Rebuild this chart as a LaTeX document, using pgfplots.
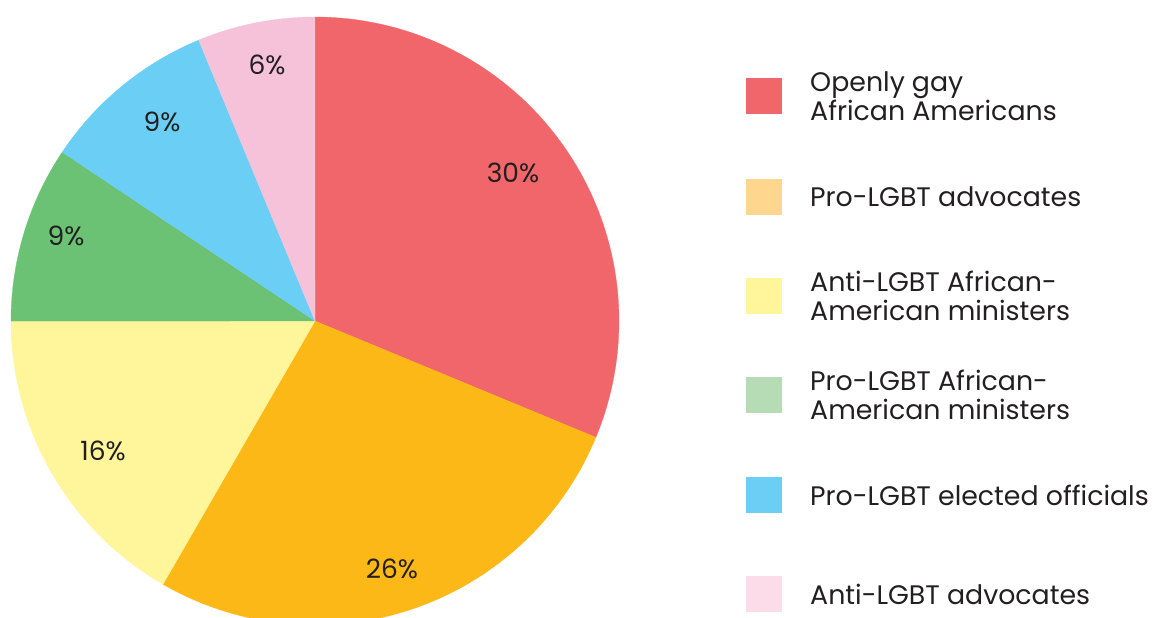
\documentclass[border=0pt]{standalone}
\usepackage{pgfplots}
\pgfplotsset{compat=1.18}
\usepackage{fontspec}
\setmainfont{Poppins}
\definecolor{cRed}{HTML}{F1666B}
\definecolor{cOrange}{HTML}{FCB817}
\definecolor{cYellow}{HTML}{FFF59A}
\definecolor{cGreen}{HTML}{6BC274}
\definecolor{cBlue}{HTML}{6BCFF5}
\definecolor{cPink}{HTML}{F6C2DA}
\definecolor{lRed}{HTML}{F1666B}
\definecolor{lOrange}{HTML}{FFD68E}
\definecolor{lYellow}{HTML}{FFF59A}
\definecolor{lGreen}{HTML}{B5DCB5}
\definecolor{lBlue}{HTML}{6BCFF5}
\definecolor{lPink}{HTML}{FCDCE9}
\definecolor{txt}{HTML}{231F20}
\begin{document}
\begin{tikzpicture}
\begin{axis}[width=1154pt, height=618pt, scale only axis,
  xmin=0, xmax=1154, ymin=0, ymax=618, hide axis, clip mode=individual]
% pie: shares in percent (sum 96, normalised)
\gdef\cumang{90}
\pgfplotsforeachungrouped \v/\c in {30/cRed, 26/cOrange, 16/cYellow, 9/cGreen, 9/cBlue, 6/cPink}{%
  \pgfmathsetmacro\a{\cumang}%
  \pgfmathsetmacro\b{\cumang-\v/96*360}%
  \xdef\cumang{\b}%
  \edef\tmp{\noexpand\addplot[fill=\c, draw=\c, line width=0.3pt, domain=\b:\a, samples=150, variable=\noexpand\t]
    ({315+304*cos(\noexpand\t)},{297+304*sin(\noexpand\t)}) -- (axis cs:315,297) -- cycle;}%
  \tmp
}
% slice labels
\begin{scope}[every node/.style={font=\fontsize{26.5}{29}\selectfont, text=txt, inner sep=0pt}]
\node at (axis cs:513,445) {30\%};
\node at (axis cs:392,49) {26\%};
\node at (axis cs:103,167) {16\%};
\node at (axis cs:66,382) {9\%};
\node at (axis cs:162,496) {9\%};
\node at (axis cs:267,553) {6\%};
\end{scope}
% legend swatches
\pgfplotsforeachungrouped \y/\c in {522/lRed, 421/lOrange, 322/lYellow, 223/lGreen, 123/lBlue, 24/lPink}{%
  \edef\tmp{\noexpand\addplot[fill=\c, draw=none] coordinates {(746,\y-18) (782,\y-18) (782,\y+18) (746,\y+18)} -- cycle;}%
  \tmp
}
\begin{scope}[every node/.style={font=\fontsize{26.8}{28.5}\selectfont, text=txt, inner sep=0pt, anchor=west, align=left}]
\node at (axis cs:810,522) {Openly gay\\African Americans};
\node at (axis cs:810,421) {Pro-LGBT advocates};
\node at (axis cs:810,322) {Anti-LGBT African-\\American ministers};
\node at (axis cs:810,223) {Pro-LGBT African-\\American ministers};
\node at (axis cs:810,123) {Pro-LGBT elected officials};
\node at (axis cs:810,24) {Anti-LGBT advocates};
\end{scope}
\end{axis}
\pgfresetboundingbox
\path[use as bounding box] (current axis.south west) rectangle (current axis.north east);
\end{tikzpicture}
\end{document}
